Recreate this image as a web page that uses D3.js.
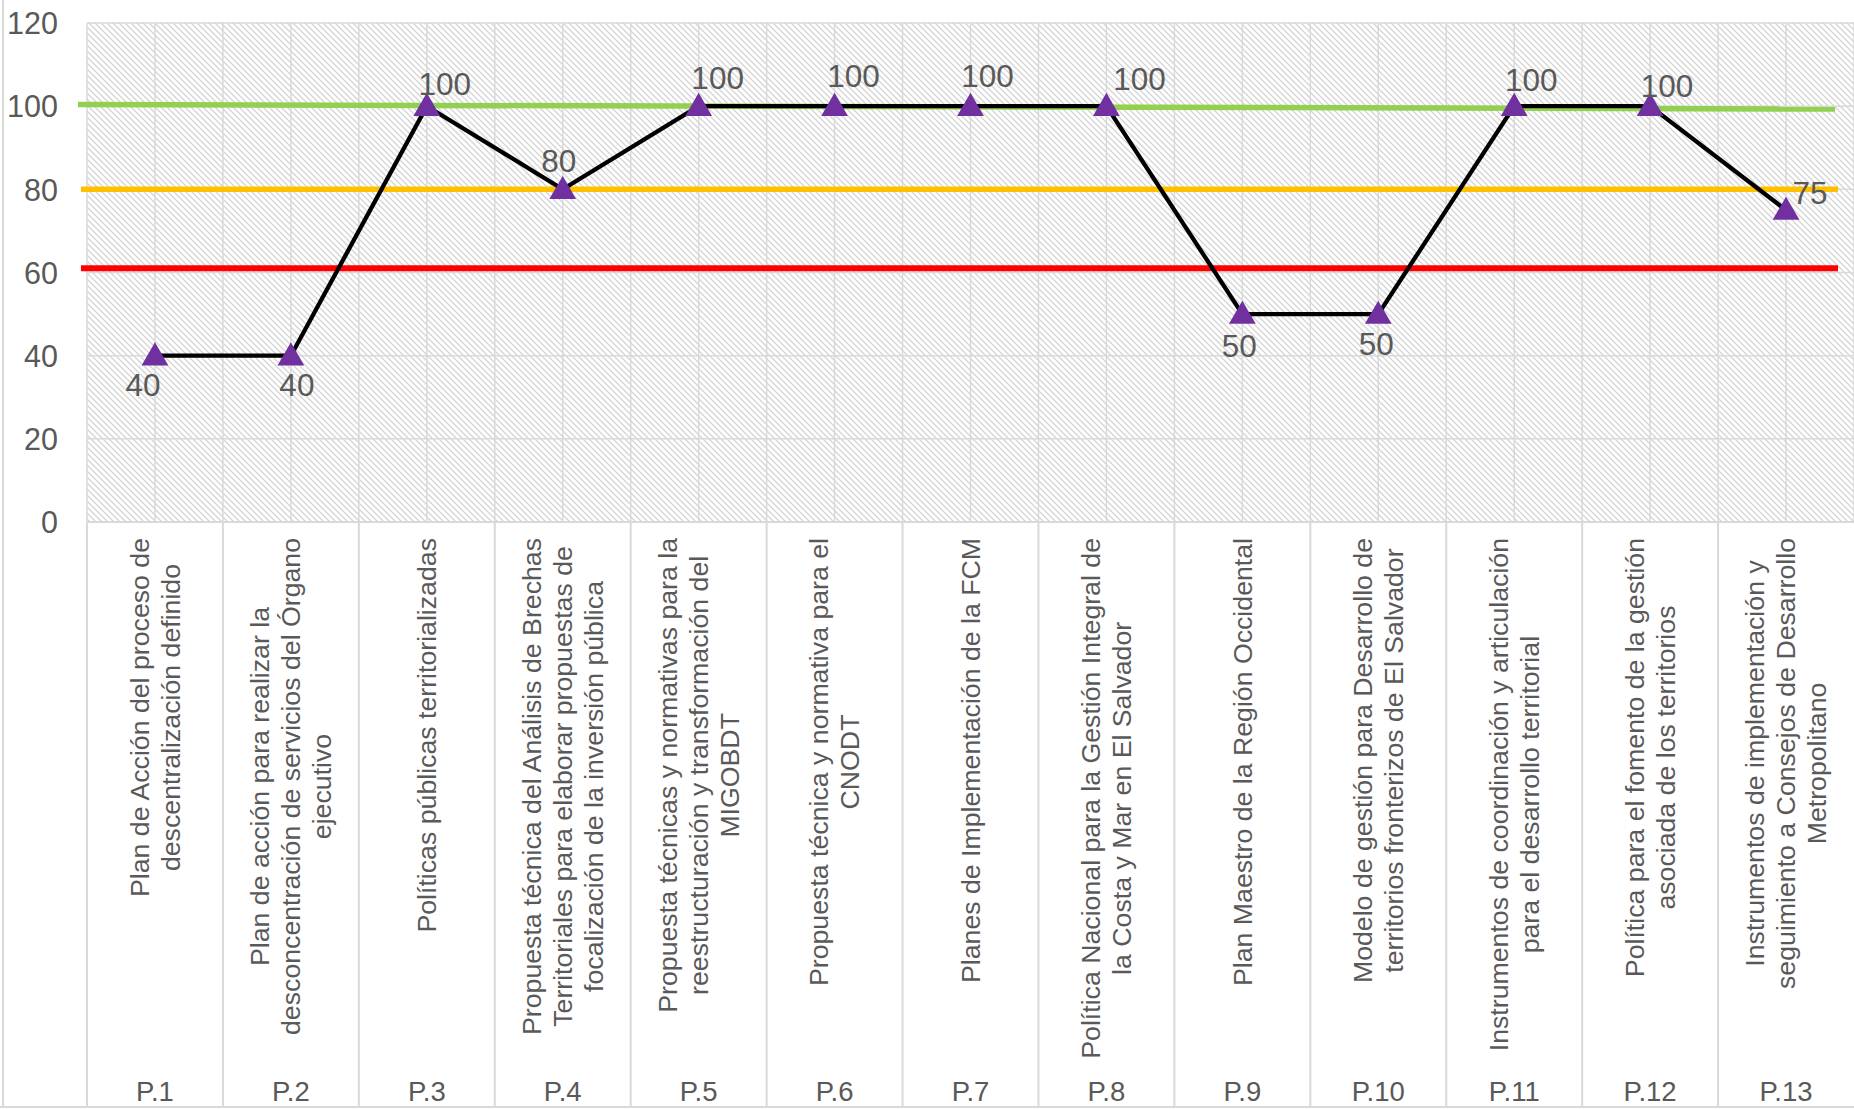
<!DOCTYPE html>
<html><head><meta charset="utf-8">
<script src="https://cdn.jsdelivr.net/npm/d3@7"></script>
<style>
html,body{margin:0;padding:0;background:#fff;}
svg{display:block;font-family:"Liberation Sans",Arial,sans-serif;}
</style></head>
<body>
<svg id="chart" width="1854" height="1109"></svg>
<script>
// ---- data ----
const codes = ["P.1","P.2","P.3","P.4","P.5","P.6","P.7","P.8","P.9","P.10","P.11","P.12","P.13"];
const labels = [
  ["Plan de Acción del proceso de","descentralización definido"],
  ["Plan de acción para realizar la","desconcentración de servicios del Órgano","ejecutivo"],
  ["Políticas públicas territorializadas"],
  ["Propuesta técnica del Análisis de Brechas","Territoriales para elaborar propuestas de","focalización de la inversión pública"],
  ["Propuesta técnicas y normativas para la","reestructuración y transformación del","MIGOBDT"],
  ["Propuesta técnica y normativa para el","CNODT"],
  ["Planes de Implementación de la FCM"],
  ["Política Nacional para la Gestión Integral de","la Costa y Mar en El Salvador"],
  ["Plan Maestro de la Región Occidental"],
  ["Modelo de gestión para Desarrollo  de","territorios fronterizos de El Salvador"],
  ["Instrumentos de coordinación y articulación","para el desarrollo territorial"],
  ["Política para el fomento de la gestión","asociada de los territorios"],
  ["Instrumentos de implementación y","seguimiento a Consejos de Desarrollo","Metropolitano"]
];
const values = [40,40,100,80,100,100,100,100,50,50,100,100,75];
const yTicks = [0,20,40,60,80,100,120];
const greenTarget = [100.4, 99.3];
const orangeTarget = [80, 80];
const redTarget = [61, 61];

// ---- layout (not data) ----
const labelOffsets = [[-12,29],[6,29],[18,-22],[-4,-28],[19,-28],[19,-30],[17,-30],[33,-27],[-3,32],[-2,30],[17,-26],[17,-20],[24,-17]];

const svg = d3.select("#chart");
const W = 1854, H = 1109;
const pLeft = 87, pRight = 1854, pTop = 23, pBottom = 522;
const textCol = "#595959";
const gridCol = "#d9d9d9";

const x = d3.scaleBand().domain(codes).range([pLeft, pRight]).padding(0);
const y = d3.scaleLinear().domain([0,120]).range([pBottom, pTop]);
const cx = d => x(d) + x.bandwidth()/2;

// hatch pattern
const defs = svg.append("defs");
const pat = defs.append("pattern").attr("id","hatch").attr("patternUnits","userSpaceOnUse")
  .attr("width",6).attr("height",6);
pat.append("rect").attr("width",6).attr("height",6).attr("fill","#ffffff");
pat.append("path").attr("d","M-1,-1 L7,7 M-1,5 L1,7 M5,-1 L7,1").attr("stroke","#d4d4d4").attr("stroke-width",1.3);

svg.append("rect").attr("x",pLeft).attr("y",pTop).attr("width",pRight-pLeft).attr("height",pBottom-pTop).attr("fill","url(#hatch)");

// horizontal gridlines
svg.append("g").selectAll("line").data(yTicks).join("line")
  .attr("x1",pLeft).attr("x2",pRight).attr("y1",d=>y(d)).attr("y2",d=>y(d))
  .attr("stroke",gridCol).attr("stroke-width",1.5);

// vertical gridlines (boundaries and centers)
const vlines = [];
codes.forEach(c => { vlines.push(x(c)); vlines.push(cx(c)); });
vlines.push(pRight);
svg.append("g").selectAll("line").data(vlines).join("line")
  .attr("x1",d=>d).attr("x2",d=>d).attr("y1",pTop).attr("y2",pBottom)
  .attr("stroke",gridCol).attr("stroke-width",1.5);

// category table lines
svg.append("line").attr("x1",pLeft).attr("x2",pRight).attr("y1",pBottom).attr("y2",pBottom).attr("stroke",gridCol).attr("stroke-width",2);
const sep = codes.map(c => x(c));
svg.append("g").selectAll("line").data(sep).join("line")
  .attr("x1",d=>d).attr("x2",d=>d).attr("y1",pBottom).attr("y2",1107)
  .attr("stroke",gridCol).attr("stroke-width",2);
svg.append("line").attr("x1",3).attr("x2",3).attr("y1",0).attr("y2",1107).attr("stroke",gridCol).attr("stroke-width",2);
svg.append("line").attr("x1",0).attr("x2",W).attr("y1",1107).attr("y2",1107).attr("stroke",gridCol).attr("stroke-width",2);

// y axis labels
const yAxis = d3.axisLeft(y).tickValues(yTicks).tickSize(0).tickPadding(0);
const ya = svg.append("g").attr("transform","translate(58,0)").call(yAxis);
ya.select(".domain").remove();
ya.selectAll("text").attr("font-size",30.5).attr("fill",textCol).attr("font-family","Liberation Sans, Arial, sans-serif").attr("dy","0.35em");

// target lines
const targets = [
  {v: redTarget, c:"#FF0000", x1:81, x2:1838, w:6},
  {v: orangeTarget, c:"#FFC000", x1:81, x2:1838, w:5.5},
  {v: greenTarget, c:"#92D050", x1:78, x2:1835, w:5.5}
];
svg.append("g").selectAll("line").data(targets).join("line")
  .attr("x1",d=>d.x1).attr("x2",d=>d.x2).attr("y1",d=>y(d.v[0])).attr("y2",d=>y(d.v[1]))
  .attr("stroke",d=>d.c).attr("stroke-width",d=>d.w);

// data line
const line = d3.line().x((d,i)=>cx(codes[i])).y(d=>y(d));
svg.append("path").datum(values).attr("d",line).attr("fill","none").attr("stroke","#000").attr("stroke-width",4.3).attr("stroke-linejoin","miter");

// markers
const tri = d3.symbol().type(d3.symbolTriangle).size(310);
svg.append("g").selectAll("path").data(values).join("path")
  .attr("d",tri)
  .attr("transform",(d,i)=>`translate(${cx(codes[i])},${y(d)+2})`)
  .attr("fill","#7030A0");

// data labels
svg.append("g").selectAll("text").data(values).join("text")
  .attr("x",(d,i)=>cx(codes[i])+labelOffsets[i][0])
  .attr("y",(d,i)=>y(d)+labelOffsets[i][1])
  .attr("dy","0.35em").attr("text-anchor","middle")
  .attr("font-size",31.5).attr("fill",textCol).text(d=>d);

// category long labels
const lh = 31;
const lg = svg.append("g");
codes.forEach((c,i) => {
  const g = lg.append("g");
  const t = g.append("text").attr("text-anchor","middle").attr("font-size",26.7).attr("fill",textCol);
  const n = labels[i].length;
  labels[i].forEach((s,j) => {
    t.append("tspan").attr("x",0).attr("y",(j-(n-1)/2)*lh).attr("dy","0.35em").text(s);
  });
  let maxW = 0;
  t.selectAll("tspan").each(function(){ maxW = Math.max(maxW, this.getComputedTextLength()); });
  g.attr("transform",`translate(${cx(c)},${538+maxW/2}) rotate(-90)`);
});

// codes
svg.append("g").selectAll("text").data(codes).join("text")
  .attr("x",d=>cx(d)).attr("y",1101).attr("text-anchor","middle")
  .attr("font-size",27.5).attr("fill",textCol).text(d=>d);
</script>
</body></html>
